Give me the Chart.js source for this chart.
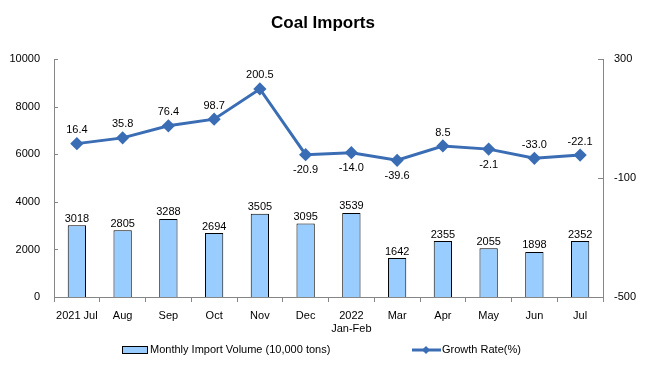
<!DOCTYPE html>
<html lang="en">
<head>
<meta charset="UTF-8">
<title>Coal Imports</title>
<style>
    html, body { margin: 0; padding: 0; background: #fff; }
    .wrap { width: 646px; height: 381px; }
</style>
</head>
<body>
<div class="wrap"><canvas id="chart" width="646" height="381"></canvas></div>

<script src="https://cdn.jsdelivr.net/npm/chart.js"></script>
<script>
    const months = ['2021 Jul', 'Aug', 'Sep', 'Oct', 'Nov', 'Dec', ['2022', 'Jan-Feb'], 'Mar', 'Apr', 'May', 'Jun', 'Jul'];
    const volume = [3018, 2805, 3288, 2694, 3505, 3095, 3539, 1642, 2355, 2055, 1898, 2352];
    const growth = [16.4, 35.8, 76.4, 98.7, 200.5, -20.9, -14.0, -39.6, 8.5, -2.1, -33.0, -22.1];
    // which growth labels sit under the point
    const growthBelow = [false, false, false, false, false, true, true, true, false, true, false, false];
    const leftTicks = [0, 2000, 4000, 6000, 8000, 10000];
    const rightTicks = [-500, -100, 300];

    const font = 'Arial, "Liberation Sans", sans-serif';
    const lineColor = '#3A6DB4';
    const axisColor = '#868686';

    // value labels on bars and line points
    const valueLabels = {
        id: 'valueLabels',
        afterDatasetsDraw(chart) {
            const ctx = chart.ctx;
            ctx.save();
            ctx.font = '11px ' + font;
            ctx.fillStyle = '#000';
            ctx.textAlign = 'center';
            chart.getDatasetMeta(0).data.forEach((bar, i) => {
                ctx.textBaseline = 'bottom';
                ctx.fillText(String(volume[i]), bar.x, bar.y - 1);
            });
            chart.getDatasetMeta(1).data.forEach((pt, i) => {
                if (growthBelow[i]) {
                    ctx.textBaseline = 'top';
                    ctx.fillText(growth[i].toFixed(1), pt.x, pt.y + 10);
                } else {
                    ctx.textBaseline = 'bottom';
                    ctx.fillText(growth[i].toFixed(1), pt.x, pt.y - 8);
                }
            });
            ctx.restore();
        }
    };

    // small inward tick marks on the two value axes, plus bottom legend
    const extras = {
        id: 'extras',
        afterDraw(chart) {
            const ctx = chart.ctx;
            const ya = chart.scales.y;
            const yb = chart.scales.y1;
            const area = chart.chartArea;
            ctx.save();
            ctx.strokeStyle = axisColor;
            ctx.lineWidth = 1;
            ctx.beginPath();
            leftTicks.forEach(v => {
                const p = Math.round(ya.getPixelForValue(v)) + 0.5;
                ctx.moveTo(area.left, p);
                ctx.lineTo(area.left + 4, p);
            });
            rightTicks.forEach(v => {
                const p = Math.round(yb.getPixelForValue(v)) + 0.5;
                ctx.moveTo(area.right, p);
                ctx.lineTo(area.right - 5, p);
            });
            ctx.stroke();

            // legend
            const ly = 350;
            ctx.font = '11px ' + font;
            ctx.textBaseline = 'middle';
            ctx.textAlign = 'left';
            ctx.fillStyle = '#99CCFF';
            ctx.fillRect(122, ly - 4, 25, 7);
            ctx.strokeStyle = '#000';
            ctx.strokeRect(122.5, ly - 3.5, 25, 7);
            ctx.fillStyle = '#000';
            ctx.fillText('Monthly Import Volume (10,000 tons)', 150, ly);

            ctx.strokeStyle = lineColor;
            ctx.lineWidth = 3;
            ctx.beginPath();
            ctx.moveTo(412, ly);
            ctx.lineTo(441, ly);
            ctx.stroke();
            ctx.fillStyle = lineColor;
            ctx.beginPath();
            ctx.moveTo(426, ly - 4);
            ctx.lineTo(430, ly);
            ctx.lineTo(426, ly + 4);
            ctx.lineTo(422, ly);
            ctx.closePath();
            ctx.fill();
            ctx.fillStyle = '#000';
            ctx.fillText('Growth Rate(%)', 442, ly);
            ctx.restore();
        }
    };

    new Chart(document.getElementById('chart'), {
        data: {
            labels: months,
            datasets: [
                {
                    type: 'bar',
                    label: 'Monthly Import Volume (10,000 tons)',
                    data: volume,
                    backgroundColor: '#99CCFF',
                    borderColor: '#000',
                    borderWidth: 1,
                    barPercentage: 0.8,
                    categoryPercentage: 0.5,
                    yAxisID: 'y',
                    order: 2
                },
                {
                    type: 'line',
                    label: 'Growth Rate(%)',
                    data: growth,
                    borderColor: lineColor,
                    backgroundColor: lineColor,
                    borderWidth: 3,
                    pointStyle: 'rectRot',
                    pointRadius: 4.5,
                    pointHoverRadius: 4.5,
                    tension: 0,
                    yAxisID: 'y1',
                    order: 1
                }
            ]
        },
        options: {
            responsive: false,
            animation: false,
            layout: { padding: { left: 0, right: 0, top: 4, bottom: 38 } },
            plugins: {
                legend: { display: false },
                tooltip: { enabled: false },
                title: {
                    display: true,
                    text: 'Coal Imports',
                    color: '#000',
                    font: { family: font, size: 17, weight: 'bold' },
                    padding: { top: 9, bottom: 26 }
                }
            },
            scales: {
                x: {
                    offset: true,
                    afterFit(scale) { scale.height = 46; },
                    grid: {
                        offset: true,
                        drawOnChartArea: false,
                        color: axisColor,
                        tickLength: 5
                    },
                    border: { color: axisColor },
                    ticks: {
                        color: '#000',
                        font: { family: font, size: 11 },
                        maxRotation: 0,
                        autoSkip: false,
                        padding: 7
                    }
                },
                y: {
                    position: 'left',
                    min: 0,
                    max: 10000,
                    afterFit(scale) { scale.width = 54; },
                    afterBuildTicks(scale) { scale.ticks = leftTicks.map(v => ({ value: v })); },
                    grid: { display: false, drawTicks: false },
                    border: { color: axisColor },
                    ticks: {
                        color: '#000',
                        font: { family: font, size: 11 },
                        padding: 14,
                        callback: v => String(v)
                    }
                },
                y1: {
                    position: 'right',
                    min: -500,
                    max: 300,
                    afterFit(scale) { scale.width = 43; },
                    afterBuildTicks(scale) { scale.ticks = rightTicks.map(v => ({ value: v })); },
                    grid: { display: false, drawTicks: false },
                    border: { color: axisColor },
                    ticks: {
                        color: '#000',
                        font: { family: font, size: 11 },
                        padding: 11,
                        callback: v => String(v)
                    }
                }
            }
        },
        plugins: [valueLabels, extras]
    });
</script>
</body>
</html>
